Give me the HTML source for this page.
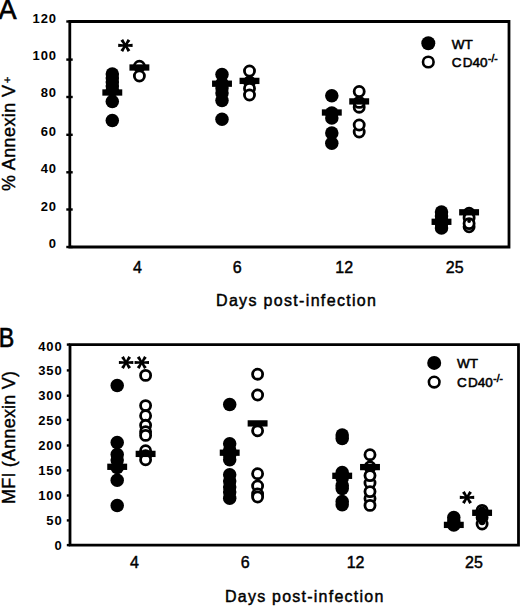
<!DOCTYPE html>
<html><head><meta charset="utf-8"><style>
html,body{margin:0;padding:0;background:#fff;width:520px;height:607px;overflow:hidden}
svg{display:block}
</style></head><body>
<svg width="520" height="607" viewBox="0 0 520 607">
<style>
text{font-family:"Liberation Sans",sans-serif;fill:#000}
.tk{font-size:13px;font-weight:bold;text-anchor:end;letter-spacing:0.9px}
.xl{font-size:16px;text-anchor:middle;stroke:#000;stroke-width:0.45px}
.tt{font-size:16px;stroke:#000;stroke-width:0.45px}
.yt{font-size:18px;stroke:#000;stroke-width:0.4px}
.lg{font-size:13.5px;stroke:#000;stroke-width:0.55px}
.sup{font-size:10px}
.pl{font-size:27px;stroke:#000;stroke-width:0.7px}
</style>
<rect width="520" height="607" fill="#fff"/>
<text x="-1.5" y="18.7" class="pl">A</text>
<text transform="translate(-1.2,347.2) scale(0.86,1)" class="pl">B</text>
<path d="M69.8,21.5H509V247H69.8Z" fill="none" stroke="#000" stroke-width="2.8"/>
<line x1="66.3" y1="247" x2="72.7" y2="247" stroke="#000" stroke-width="2.4"/>
<text x="57.0" y="248.20" class="tk">0</text>
<line x1="66.3" y1="209.5" x2="72.7" y2="209.5" stroke="#000" stroke-width="2.4"/>
<text x="57.0" y="211.20" class="tk">20</text>
<line x1="66.3" y1="172.3" x2="72.7" y2="172.3" stroke="#000" stroke-width="2.4"/>
<text x="57.0" y="173.00" class="tk">40</text>
<line x1="66.3" y1="134.8" x2="72.7" y2="134.8" stroke="#000" stroke-width="2.4"/>
<text x="57.0" y="135.70" class="tk">60</text>
<line x1="66.3" y1="97" x2="72.7" y2="97" stroke="#000" stroke-width="2.4"/>
<text x="57.0" y="97.40" class="tk">80</text>
<line x1="66.3" y1="59.6" x2="72.7" y2="59.6" stroke="#000" stroke-width="2.4"/>
<text x="57.0" y="60.00" class="tk">100</text>
<line x1="66.3" y1="21.5" x2="72.7" y2="21.5" stroke="#000" stroke-width="2.4"/>
<text x="57.0" y="22.90" class="tk">120</text>
<path d="M70.0,344.6H518.5V545.1H70.0Z" fill="none" stroke="#000" stroke-width="2.8"/>
<line x1="66.8" y1="545.1" x2="70.0" y2="545.1" stroke="#000" stroke-width="2.4"/>
<text x="62.6" y="550.30" class="tk">0</text>
<line x1="66.8" y1="520.4" x2="70.0" y2="520.4" stroke="#000" stroke-width="2.4"/>
<text x="62.6" y="525.10" class="tk">50</text>
<line x1="66.8" y1="495.5" x2="70.0" y2="495.5" stroke="#000" stroke-width="2.4"/>
<text x="62.6" y="500.40" class="tk">100</text>
<line x1="66.8" y1="470.4" x2="70.0" y2="470.4" stroke="#000" stroke-width="2.4"/>
<text x="62.6" y="474.80" class="tk">150</text>
<line x1="66.8" y1="445.5" x2="70.0" y2="445.5" stroke="#000" stroke-width="2.4"/>
<text x="62.6" y="449.90" class="tk">200</text>
<line x1="66.8" y1="419.9" x2="70.0" y2="419.9" stroke="#000" stroke-width="2.4"/>
<text x="62.6" y="424.80" class="tk">250</text>
<line x1="66.8" y1="395.7" x2="70.0" y2="395.7" stroke="#000" stroke-width="2.4"/>
<text x="62.6" y="399.60" class="tk">300</text>
<line x1="66.8" y1="370.4" x2="70.0" y2="370.4" stroke="#000" stroke-width="2.4"/>
<text x="62.6" y="375.30" class="tk">350</text>
<line x1="66.8" y1="344.6" x2="70.0" y2="344.6" stroke="#000" stroke-width="2.4"/>
<text x="62.6" y="350.70" class="tk">400</text>
<circle cx="112.3" cy="74" r="6.75" fill="#000"/>
<circle cx="112.3" cy="78" r="6.75" fill="#000"/>
<circle cx="112.3" cy="82" r="6.75" fill="#000"/>
<circle cx="112.3" cy="86" r="6.75" fill="#000"/>
<circle cx="112.3" cy="90" r="6.75" fill="#000"/>
<circle cx="112.3" cy="101.5" r="6.75" fill="#000"/>
<circle cx="112.3" cy="120.5" r="6.75" fill="#000"/>
<rect x="102.35" y="89.35" width="19.9" height="6.3" fill="#000"/>
<circle cx="139.4" cy="66.2" r="5.05" fill="#fff" stroke="#000" stroke-width="2.8"/>
<circle cx="139.4" cy="76" r="5.05" fill="#fff" stroke="#000" stroke-width="2.8"/>
<rect x="129.45" y="64.35" width="19.9" height="6.3" fill="#000"/>
<circle cx="222.0" cy="74.4" r="6.75" fill="#000"/>
<circle cx="222.0" cy="83.5" r="6.75" fill="#000"/>
<circle cx="222.0" cy="88" r="6.75" fill="#000"/>
<circle cx="222.0" cy="93" r="6.75" fill="#000"/>
<circle cx="222.0" cy="100.4" r="6.75" fill="#000"/>
<circle cx="222.0" cy="119.2" r="6.75" fill="#000"/>
<rect x="212.05" y="80.55" width="19.9" height="6.3" fill="#000"/>
<circle cx="249.5" cy="71" r="5.05" fill="#fff" stroke="#000" stroke-width="2.8"/>
<circle cx="249.5" cy="82" r="5.05" fill="#fff" stroke="#000" stroke-width="2.8"/>
<circle cx="249.5" cy="88.5" r="5.05" fill="#fff" stroke="#000" stroke-width="2.8"/>
<circle cx="249.5" cy="95" r="5.05" fill="#fff" stroke="#000" stroke-width="2.8"/>
<rect x="239.55" y="77.75" width="19.9" height="6.3" fill="#000"/>
<circle cx="331.8" cy="95.7" r="6.75" fill="#000"/>
<circle cx="331.8" cy="113" r="6.75" fill="#000"/>
<circle cx="331.8" cy="118" r="6.75" fill="#000"/>
<circle cx="331.8" cy="133" r="6.75" fill="#000"/>
<circle cx="331.8" cy="143.3" r="6.75" fill="#000"/>
<rect x="321.85" y="109.35" width="19.9" height="6.3" fill="#000"/>
<circle cx="359.2" cy="107.2" r="5.05" fill="#fff" stroke="#000" stroke-width="2.8"/>
<circle cx="359.2" cy="102.4" r="5.05" fill="#fff" stroke="#000" stroke-width="2.8"/>
<circle cx="359.2" cy="91.5" r="5.05" fill="#fff" stroke="#000" stroke-width="2.8"/>
<circle cx="359.2" cy="132" r="5.05" fill="#fff" stroke="#000" stroke-width="2.8"/>
<circle cx="359.2" cy="125" r="5.05" fill="#fff" stroke="#000" stroke-width="2.8"/>
<rect x="349.25" y="98.25" width="19.9" height="6.3" fill="#000"/>
<circle cx="441.5" cy="212" r="6.75" fill="#000"/>
<circle cx="441.5" cy="216" r="6.75" fill="#000"/>
<circle cx="441.5" cy="220" r="6.75" fill="#000"/>
<circle cx="441.5" cy="224" r="6.75" fill="#000"/>
<circle cx="441.5" cy="228" r="6.75" fill="#000"/>
<rect x="431.55" y="218.65" width="19.9" height="6.3" fill="#000"/>
<circle cx="469.1" cy="226.8" r="5.05" fill="#fff" stroke="#000" stroke-width="2.8"/>
<circle cx="469.1" cy="213.2" r="5.05" fill="#fff" stroke="#000" stroke-width="2.8"/>
<circle cx="469.1" cy="218" r="5.05" fill="#fff" stroke="#000" stroke-width="2.8"/>
<circle cx="469.1" cy="223.6" r="5.05" fill="#fff" stroke="#000" stroke-width="2.8"/>
<circle cx="469.1" cy="221.0" r="1.9" fill="#000"/>
<rect x="459.15" y="209.15" width="19.9" height="6.3" fill="#000"/>
<path d="M125.40,46.40L132.60,47.00L132.60,43.80L125.40,44.40ZM125.40,44.40L118.20,43.80L118.20,47.00L125.40,46.40ZM124.56,45.94L127.67,51.90L130.37,50.17L126.24,44.86ZM126.24,45.94L130.37,40.63L127.67,38.90L124.56,44.86ZM124.56,44.86L120.43,50.17L123.13,51.90L126.24,45.94ZM126.24,44.86L123.13,38.90L120.43,40.63L124.56,45.94Z" fill="#000"/><circle cx="125.4" cy="45.4" r="1.6" fill="#000"/>
<circle cx="117.2" cy="385.4" r="6.75" fill="#000"/>
<circle cx="117.2" cy="442.4" r="6.75" fill="#000"/>
<circle cx="117.2" cy="454.5" r="6.75" fill="#000"/>
<circle cx="117.2" cy="460" r="6.75" fill="#000"/>
<circle cx="117.2" cy="467.5" r="6.75" fill="#000"/>
<circle cx="117.2" cy="480.3" r="6.75" fill="#000"/>
<circle cx="117.2" cy="505.4" r="6.75" fill="#000"/>
<rect x="107.25" y="463.65" width="19.9" height="6.3" fill="#000"/>
<circle cx="145.6" cy="375.4" r="5.05" fill="#fff" stroke="#000" stroke-width="2.8"/>
<circle cx="145.6" cy="405.6" r="5.05" fill="#fff" stroke="#000" stroke-width="2.8"/>
<circle cx="145.6" cy="415.7" r="5.05" fill="#fff" stroke="#000" stroke-width="2.8"/>
<circle cx="145.6" cy="425.3" r="5.05" fill="#fff" stroke="#000" stroke-width="2.8"/>
<circle cx="145.6" cy="431.7" r="5.05" fill="#fff" stroke="#000" stroke-width="2.8"/>
<circle cx="145.6" cy="435.4" r="5.05" fill="#fff" stroke="#000" stroke-width="2.8"/>
<circle cx="145.6" cy="450.7" r="5.05" fill="#fff" stroke="#000" stroke-width="2.8"/>
<circle cx="145.6" cy="455.8" r="5.05" fill="#fff" stroke="#000" stroke-width="2.8"/>
<circle cx="145.6" cy="459.8" r="5.05" fill="#fff" stroke="#000" stroke-width="2.8"/>
<rect x="135.65" y="450.75" width="19.9" height="6.3" fill="#000"/>
<circle cx="229.7" cy="404.5" r="6.75" fill="#000"/>
<circle cx="229.7" cy="443.8" r="6.75" fill="#000"/>
<circle cx="229.7" cy="450" r="6.75" fill="#000"/>
<circle cx="229.7" cy="455" r="6.75" fill="#000"/>
<circle cx="229.7" cy="459.7" r="6.75" fill="#000"/>
<circle cx="229.7" cy="474.8" r="6.75" fill="#000"/>
<circle cx="229.7" cy="481" r="6.75" fill="#000"/>
<circle cx="229.7" cy="487" r="6.75" fill="#000"/>
<circle cx="229.7" cy="492" r="6.75" fill="#000"/>
<circle cx="229.7" cy="498.2" r="6.75" fill="#000"/>
<rect x="219.75" y="449.55" width="19.9" height="6.3" fill="#000"/>
<circle cx="257.6" cy="374.2" r="5.05" fill="#fff" stroke="#000" stroke-width="2.8"/>
<circle cx="257.6" cy="395" r="5.05" fill="#fff" stroke="#000" stroke-width="2.8"/>
<circle cx="257.6" cy="430.8" r="5.05" fill="#fff" stroke="#000" stroke-width="2.8"/>
<circle cx="257.6" cy="486" r="5.05" fill="#fff" stroke="#000" stroke-width="2.8"/>
<circle cx="257.6" cy="494" r="5.05" fill="#fff" stroke="#000" stroke-width="2.8"/>
<circle cx="257.6" cy="497" r="5.05" fill="#fff" stroke="#000" stroke-width="2.8"/>
<circle cx="257.6" cy="473.7" r="5.05" fill="#fff" stroke="#000" stroke-width="2.8"/>
<rect x="247.65" y="420.25" width="19.9" height="6.3" fill="#000"/>
<circle cx="342.2" cy="435" r="6.75" fill="#000"/>
<circle cx="342.2" cy="438.6" r="6.75" fill="#000"/>
<circle cx="342.2" cy="472.4" r="6.75" fill="#000"/>
<circle cx="342.2" cy="478" r="6.75" fill="#000"/>
<circle cx="342.2" cy="485.5" r="6.75" fill="#000"/>
<circle cx="342.2" cy="488.5" r="6.75" fill="#000"/>
<circle cx="342.2" cy="501.4" r="6.75" fill="#000"/>
<circle cx="342.2" cy="504.7" r="6.75" fill="#000"/>
<rect x="332.25" y="472.65" width="19.9" height="6.3" fill="#000"/>
<circle cx="370.0" cy="483" r="5.05" fill="#fff" stroke="#000" stroke-width="2.8"/>
<circle cx="370.0" cy="498.5" r="5.05" fill="#fff" stroke="#000" stroke-width="2.8"/>
<circle cx="370.0" cy="467" r="5.05" fill="#fff" stroke="#000" stroke-width="2.8"/>
<circle cx="370.0" cy="454.7" r="5.05" fill="#fff" stroke="#000" stroke-width="2.8"/>
<circle cx="370.0" cy="475.6" r="5.05" fill="#fff" stroke="#000" stroke-width="2.8"/>
<circle cx="370.0" cy="491.6" r="5.05" fill="#fff" stroke="#000" stroke-width="2.8"/>
<circle cx="370.0" cy="505.4" r="5.05" fill="#fff" stroke="#000" stroke-width="2.8"/>
<rect x="360.05" y="463.95" width="19.9" height="6.3" fill="#000"/>
<circle cx="453.8" cy="517.5" r="6.75" fill="#000"/>
<circle cx="453.8" cy="521" r="6.75" fill="#000"/>
<circle cx="453.8" cy="525" r="6.75" fill="#000"/>
<rect x="443.85" y="521.75" width="19.9" height="6.3" fill="#000"/>
<circle cx="482.1" cy="510.4" r="5.05" fill="#fff" stroke="#000" stroke-width="2.8"/>
<circle cx="482.1" cy="517.5" r="5.05" fill="#fff" stroke="#000" stroke-width="2.8"/>
<circle cx="482.1" cy="524.0" r="5.05" fill="#fff" stroke="#000" stroke-width="2.8"/>
<circle cx="482.1" cy="510.4" r="4.0" fill="#000"/>
<circle cx="482.1" cy="517.5" r="4.4" fill="#000"/>
<circle cx="482.1" cy="521.8" r="3.4" fill="#000"/>
<rect x="472.15" y="509.65" width="19.9" height="6.3" fill="#000"/>
<path d="M126.10,363.50L133.30,364.10L133.30,360.90L126.10,361.50ZM126.10,361.50L118.90,360.90L118.90,364.10L126.10,363.50ZM125.26,363.04L128.37,369.00L131.07,367.27L126.94,361.96ZM126.94,363.04L131.07,357.73L128.37,356.00L125.26,361.96ZM125.26,361.96L121.13,367.27L123.83,369.00L126.94,363.04ZM126.94,361.96L123.83,356.00L121.13,357.73L125.26,363.04Z" fill="#000"/><circle cx="126.1" cy="362.5" r="1.6" fill="#000"/>
<path d="M141.80,363.50L149.00,364.10L149.00,360.90L141.80,361.50ZM141.80,361.50L134.60,360.90L134.60,364.10L141.80,363.50ZM140.96,363.04L144.07,369.00L146.77,367.27L142.64,361.96ZM142.64,363.04L146.77,357.73L144.07,356.00L140.96,361.96ZM140.96,361.96L136.83,367.27L139.53,369.00L142.64,363.04ZM142.64,361.96L139.53,356.00L136.83,357.73L140.96,363.04Z" fill="#000"/><circle cx="141.8" cy="362.5" r="1.6" fill="#000"/>
<path d="M467.00,498.40L474.20,499.00L474.20,495.80L467.00,496.40ZM467.00,496.40L459.80,495.80L459.80,499.00L467.00,498.40ZM466.16,497.94L469.27,503.90L471.97,502.17L467.84,496.86ZM467.84,497.94L471.97,492.63L469.27,490.90L466.16,496.86ZM466.16,496.86L462.03,502.17L464.73,503.90L467.84,497.94ZM467.84,496.86L464.73,490.90L462.03,492.63L466.16,497.94Z" fill="#000"/><circle cx="467" cy="497.4" r="1.6" fill="#000"/>
<circle cx="428.3" cy="43.3" r="7" fill="#000"/>
<circle cx="428.3" cy="62" r="5.3" fill="#fff" stroke="#000" stroke-width="2.6"/>
<text x="451.8" y="48.6" class="lg">WT</text>
<text x="451.8" y="67" class="lg">C<tspan dx="1.3">D40</tspan><tspan class="sup" dy="-5.5" dx="0.5">-/-</tspan></text>
<circle cx="434.2" cy="362.9" r="7" fill="#000"/>
<circle cx="434.2" cy="382.1" r="5.3" fill="#fff" stroke="#000" stroke-width="2.6"/>
<text x="457" y="368" class="lg">WT</text>
<text x="457" y="387" class="lg">C<tspan dx="1.3">D40</tspan><tspan class="sup" dy="-5.5" dx="0.5">-/-</tspan></text>
<text x="137.4" y="273" class="xl">4</text>
<text x="237.2" y="273" class="xl">6</text>
<text x="344.2" y="273" class="xl">12</text>
<text x="454.7" y="273" class="xl">25</text>
<text x="134.4" y="568" class="xl">4</text>
<text x="245.2" y="568" class="xl">6</text>
<text x="355.6" y="568" class="xl">12</text>
<text x="474" y="568" class="xl">25</text>
<text x="216" y="305.8" class="tt" textLength="160" lengthAdjust="spacing">Days post-infection</text>
<text x="225" y="602" class="tt" textLength="158.3" lengthAdjust="spacing">Days post-infection</text>
<text transform="translate(15,191) rotate(-90)" class="yt" textLength="106" lengthAdjust="spacing">% Annexin V</text>
<text transform="translate(10.5,82.9) rotate(-90)" class="yt" style="font-size:11px">+</text>
<text transform="translate(15,504) rotate(-90)" class="yt" textLength="133" lengthAdjust="spacing">MFI (Annexin V)</text>
</svg>
</body></html>
